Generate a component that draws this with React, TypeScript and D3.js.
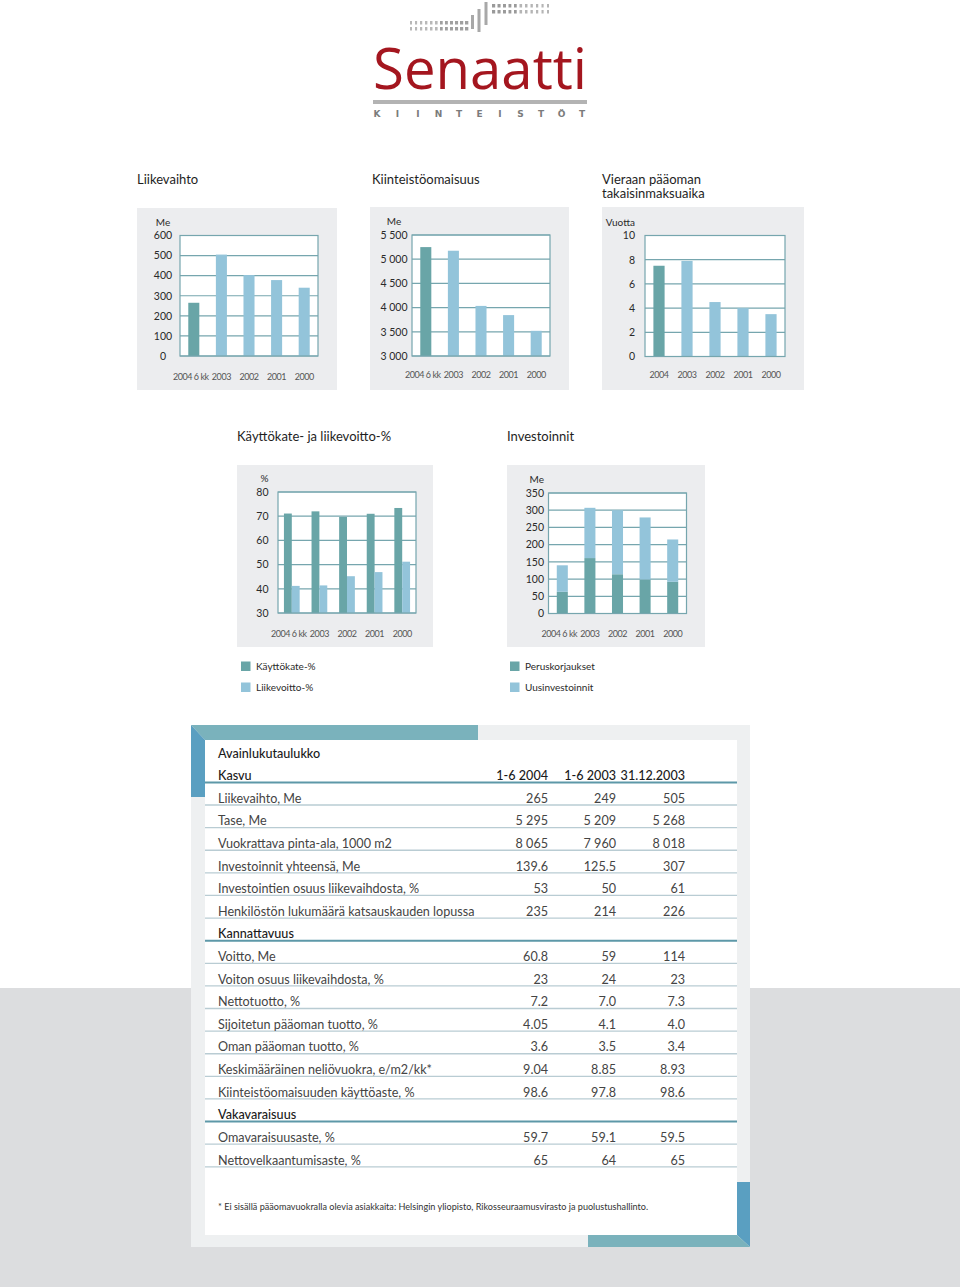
import React from "react";
import * as d3 from "d3";

const FONT = "Lato, 'Open Sans', sans-serif";

// ---- Data ----
const yearLabels = ["2004 6 kk", "2003", "2002", "2001", "2000"];
const yearLabelsShort = ["2004", "2003", "2002", "2001", "2000"];

const liikevaihto = [265, 505, 403, 378, 340];
const liikevaihtoTicks = [0, 100, 200, 300, 400, 500, 600];
const liikevaihtoTickLabels = ["0", "100", "200", "300", "400", "500", "600"];

const kiinteistoomaisuus = [5250, 5175, 4035, 3845, 3520];
const kiinteistoTicks = [3000, 3500, 4000, 4500, 5000, 5500];
const kiinteistoTickLabels = ["3 000", "3 500", "4 000", "4 500", "5 000", "5 500"];

const takaisinmaksuaika = [7.5, 7.9, 4.5, 4.0, 3.5];
const takaisinTicks = [0, 2, 4, 6, 8, 10];
const takaisinTickLabels = ["0", "2", "4", "6", "8", "10"];

const kayttokate = [71.1, 72.0, 69.7, 71.0, 73.4];
const liikevoitto = [41.2, 41.4, 45.2, 46.9, 51.2];
const prosenttiTicks = [30, 40, 50, 60, 70, 80];
const prosenttiTickLabels = ["30", "40", "50", "60", "70", "80"];

const peruskorjaukset = [63, 161, 114, 99, 92];
const uusinvestoinnit = [77, 146, 186, 180, 123];
const investointiTicks = [0, 50, 100, 150, 200, 250, 300, 350];
const investointiTickLabels = ["0", "50", "100", "150", "200", "250", "300", "350"];

const tableTitle = "Avainlukutaulukko";
const tableColumns = ["1-6 2004", "1-6 2003", "31.12.2003"];
const kasvuRows = [
  ["Liikevaihto, Me", "265", "249", "505"],
  ["Tase, Me", "5 295", "5 209", "5 268"],
  ["Vuokrattava pinta-ala, 1000 m2", "8 065", "7 960", "8 018"],
  ["Investoinnit yhteensä, Me", "139.6", "125.5", "307"],
  ["Investointien osuus liikevaihdosta, %", "53", "50", "61"],
  ["Henkilöstön lukumäärä katsauskauden lopussa", "235", "214", "226"],
];
const kannattavuusRows = [
  ["Voitto, Me", "60.8", "59", "114"],
  ["Voiton osuus liikevaihdosta, %", "23", "24", "23"],
  ["Nettotuotto, %", "7.2", "7.0", "7.3"],
  ["Sijoitetun pääoman tuotto, %", "4.05", "4.1", "4.0"],
  ["Oman pääoman tuotto, %", "3.6", "3.5", "3.4"],
  ["Keskimääräinen neliövuokra, e/m2/kk*", "9.04", "8.85", "8.93"],
  ["Kiinteistöomaisuuden käyttöaste, %", "98.6", "97.8", "98.6"],
];
const vakavaraisuusRows = [
  ["Omavaraisuusaste, %", "59.7", "59.1", "59.5"],
  ["Nettovelkaantumisaste, %", "65", "64", "65"],
];
const footnote =
  "* Ei sisällä pääomavuokralla olevia asiakkaita: Helsingin yliopisto, Rikosseuraamusvirasto ja puolustushallinto.";

// ---- Styles ----
const DARK = "#69a5a7";
const LIGHT = "#93c4da";
const GRID = "#76a6ae";
const PANEL = "#ecedef";
const TEXT = "#2a2a2a";

type Rect = { x: number; y: number; w: number; h: number };

function BarChart(props: {
  panel: Rect;
  plot: Rect;
  domain: [number, number];
  ticks: number[];
  tickLabels: string[];
  unit: string;
  labelX: number;
  anchor: "middle" | "end";
  categories: string[];
  xLabelY: number;
  mode: "single" | "grouped" | "stacked";
  series: number[][];
  colors: string[];
}) {
  const { panel, plot, domain, ticks, tickLabels, unit, labelX, anchor, categories, xLabelY, mode, series, colors } = props;
  const y = d3.scaleLinear().domain(domain).range([plot.y + plot.h, plot.y]);
  const inner = mode === "grouped" ? 0.43 : 0.6;
  const x = d3
    .scaleBand<string>()
    .domain(categories)
    .range([plot.x, plot.x + plot.w])
    .paddingInner(inner)
    .paddingOuter(inner / 2);
  const sub = d3
    .scaleBand<number>()
    .domain(series.map((_, i) => i))
    .range([0, x.bandwidth()]);

  const bars: JSX.Element[] = [];
  if (mode === "single") {
    series[0].forEach((v, i) => {
      const c = categories[i];
      bars.push(
        <rect key={i} x={x(c)} y={y(v)} width={x.bandwidth()} height={y(domain[0]) - y(v)} fill={i === 0 ? colors[0] : colors[1]} />
      );
    });
  } else if (mode === "grouped") {
    series.forEach((s, si) =>
      s.forEach((v, i) => {
        const c = categories[i];
        bars.push(
          <rect key={si + "-" + i} x={(x(c) as number) + (sub(si) as number)} y={y(v)} width={sub.bandwidth()} height={y(domain[0]) - y(v)} fill={colors[si]} />
        );
      })
    );
  } else {
    const stack = d3.stack<number>().keys(series.map((_, i) => String(i))).value((d, k) => series[+k][d]);
    const layers = stack(categories.map((_, i) => i));
    layers.forEach((layer, si) =>
      layer.forEach((seg, i) => {
        const c = categories[i];
        bars.push(
          <rect key={si + "-" + i} x={x(c)} y={y(seg[1])} width={x.bandwidth()} height={y(seg[0]) - y(seg[1])} fill={colors[si]} />
        );
      })
    );
  }

  return (
    <g>
      <rect x={panel.x} y={panel.y} width={panel.w} height={panel.h} fill={PANEL} />
      <rect x={plot.x} y={plot.y} width={plot.w} height={plot.h} fill="#ffffff" />
      {ticks.map((t, i) => (
        <line key={"g" + i} x1={plot.x} x2={plot.x + plot.w} y1={y(t)} y2={y(t)} stroke={GRID} strokeWidth={1.2} />
      ))}
      {bars}
      <rect x={plot.x} y={plot.y} width={plot.w} height={plot.h} fill="none" stroke={GRID} strokeWidth={1.2} />
      {ticks.map((t, i) => (
        <text key={"t" + i} x={labelX} y={y(t) + 3.8} textAnchor={anchor} fontSize={10.5} fill={TEXT} fontFamily={FONT}>
          {tickLabels[i]}
        </text>
      ))}
      <text x={labelX} y={plot.y - 10} textAnchor={anchor} fontSize={10} fill={TEXT} fontFamily={FONT}>
        {unit}
      </text>
      {categories.map((c, i) => {
        const cx = (x(c) as number) + x.bandwidth() / 2;
        const shift = c.length > 4 ? -3 : 0;
        return (
          <text key={"x" + i} x={cx + shift} y={xLabelY + 3.5} textAnchor="middle" fontSize={9} fill="#555" fontFamily={FONT} letterSpacing={-0.45}>
            {c}
          </text>
        );
      })}
    </g>
  );
}

function Logo() {
  const lowDashes = d3.range(12);
  const highDashes = d3.range(11);
  return (
    <g>
      {lowDashes.map((i) => (
        <g key={"l" + i} fill={i < 6 ? "#b8b8b8" : "#a0a0a0"}>
          <rect x={410 + i * 5} y={21} width={2 + i * 0.12} height={3.5} />
          <rect x={410 + i * 5} y={27} width={2 + i * 0.12} height={3.5} />
        </g>
      ))}
      <rect x={471} y={15} width={3} height={14} fill="#a8a8a8" />
      <rect x={477.5} y={9} width={3} height={23} fill="#a8a8a8" />
      <rect x={484.5} y={2} width={3} height={23} fill="#a8a8a8" />
      {highDashes.map((i) => (
        <g key={"h" + i} fill={i < 5 ? "#9a9a9a" : "#b5b5b5"}>
          <rect x={492 + i * 5.5} y={4} width={3.2 - i * 0.12} height={3.5} />
          <rect x={492 + i * 5.5} y={10} width={3.2 - i * 0.12} height={3.5} />
        </g>
      ))}
      <text x={373} y={89} fontSize={56} fill="#a4161f" fontFamily="'Open Sans', sans-serif" textLength={214} lengthAdjust="spacingAndGlyphs">
        Senaatti
      </text>
      <rect x={373} y={100} width={214} height={4} fill="#b3b3b3" />
      {"KIINTEISTÖT".split("").map((ch, i) => (
        <text key={"k" + i} x={377 + i * 20.5} y={117} fontSize={9} fontWeight="bold" fill="#7b7b7b" textAnchor="middle" fontFamily="'DejaVu Sans', sans-serif">
          {ch}
        </text>
      ))}
    </g>
  );
}

function Title({ x, y, lines }: { x: number; y: number; lines: string[] }) {
  return (
    <g>
      {lines.map((l, i) => (
        <text key={i} x={x} y={y + i * 14.5} fontSize={13} fill="#1e1e1e" fontFamily={FONT}>
          {l}
        </text>
      ))}
    </g>
  );
}

function Legend({ x, y, items }: { x: number; y: number; items: { label: string; color: string }[] }) {
  return (
    <g>
      {items.map((it, i) => (
        <g key={i}>
          <rect x={x} y={y + i * 21 - 4.5} width={9.5} height={9.5} fill={it.color} />
          <text x={x + 15} y={y + i * 21 + 3.5} fontSize={10} fill={TEXT} fontFamily={FONT}>
            {it.label}
          </text>
        </g>
      ))}
    </g>
  );
}

function KeyTable() {
  type Row = { kind: "title" | "section" | "row"; cells: string[] };
  const rows: Row[] = [
    { kind: "title", cells: [tableTitle] },
    { kind: "section", cells: ["Kasvu", ...tableColumns] },
    ...kasvuRows.map((r) => ({ kind: "row" as const, cells: r })),
    { kind: "section", cells: ["Kannattavuus"] },
    ...kannattavuusRows.map((r) => ({ kind: "row" as const, cells: r })),
    { kind: "section", cells: ["Vakavaraisuus"] },
    ...vakavaraisuusRows.map((r) => ({ kind: "row" as const, cells: r })),
  ];
  const rowY = d3.scaleLinear().domain([0, rows.length - 1]).range([753, 1160]);
  const colX = [548, 616, 685];
  const left = 205;
  const right = 737;
  return (
    <g>
      <rect x={191} y={725} width={559} height={522} fill="#eef0f1" />
      <rect x={left} y={740} width={right - left} height={495} fill="#ffffff" />
      <polygon points="191,725 478,725 478,740 205,740" fill="#7ab2bc" />
      <polygon points="191,725 205,740 205,797 191,797" fill="#5a9fc1" />
      <polygon points="737,1182 750,1182 750,1247 737,1235" fill="#5a9fc1" />
      <polygon points="588,1235 737,1235 750,1247 588,1247" fill="#7ab2bc" />
      {rows.map((r, i) => {
        const cy = rowY(i);
        const strong = r.kind !== "row";
        const fill = strong ? "#1a1a1a" : "#444444";
        const weight = strong ? 500 : 400;
        return (
          <g key={i}>
            {r.kind !== "title" && (
              <line
                x1={left}
                x2={right}
                y1={cy + 6.8}
                y2={cy + 6.8}
                stroke={r.kind === "section" ? "#5d98a8" : "#b9ccd3"}
                strokeWidth={r.kind === "section" ? 2 : 1.3}
              />
            )}
            <text x={218} y={cy + 4.5} fontSize={12.6} fill={fill} fontWeight={weight} fontFamily={FONT}>
              {r.cells[0]}
            </text>
            {r.cells.slice(1).map((c, j) => (
              <text key={j} x={colX[j]} y={cy + 4.5} textAnchor="end" fontSize={12.6} fill={fill} fontWeight={weight} fontFamily={FONT}>
                {c}
              </text>
            ))}
          </g>
        );
      })}
      <text x={218} y={1210} fontSize={9.1} fill="#333" fontFamily={FONT}>
        {footnote}
      </text>
    </g>
  );
}

export default function App() {
  return (
    <svg width={960} height={1287} style={{ position: "absolute", left: 0, top: 0, display: "block" }} xmlns="http://www.w3.org/2000/svg">
      <rect x={0} y={0} width={960} height={1287} fill="#ffffff" />
      <rect x={0} y={988} width={960} height={299} fill="#dcdddf" />
      <Logo />

      <Title x={137} y={183.5} lines={["Liikevaihto"]} />
      <BarChart
        panel={{ x: 137, y: 208, w: 200, h: 182 }}
        plot={{ x: 180, y: 235.5, w: 138, h: 120.5 }}
        domain={[0, 600]}
        ticks={liikevaihtoTicks}
        tickLabels={liikevaihtoTickLabels}
        unit="Me"
        labelX={163}
        anchor="middle"
        categories={yearLabels}
        xLabelY={376}
        mode="single"
        series={[liikevaihto]}
        colors={[DARK, LIGHT]}
      />

      <Title x={372} y={183.5} lines={["Kiinteistöomaisuus"]} />
      <BarChart
        panel={{ x: 370, y: 207, w: 199, h: 183 }}
        plot={{ x: 412, y: 235, w: 138, h: 121 }}
        domain={[3000, 5500]}
        ticks={kiinteistoTicks}
        tickLabels={kiinteistoTickLabels}
        unit="Me"
        labelX={394}
        anchor="middle"
        categories={yearLabels}
        xLabelY={374}
        mode="single"
        series={[kiinteistoomaisuus]}
        colors={[DARK, LIGHT]}
      />

      <Title x={602} y={183.5} lines={["Vieraan pääoman", "takaisinmaksuaika"]} />
      <BarChart
        panel={{ x: 602, y: 207, w: 202, h: 183 }}
        plot={{ x: 645, y: 235.5, w: 140, h: 121 }}
        domain={[0, 10]}
        ticks={takaisinTicks}
        tickLabels={takaisinTickLabels}
        unit="Vuotta"
        labelX={635}
        anchor="end"
        categories={yearLabelsShort}
        xLabelY={374}
        mode="single"
        series={[takaisinmaksuaika]}
        colors={[DARK, LIGHT]}
      />

      <Title x={237} y={440.5} lines={["Käyttökate- ja liikevoitto-%"]} />
      <BarChart
        panel={{ x: 237, y: 465, w: 196, h: 182 }}
        plot={{ x: 278, y: 492, w: 138, h: 121 }}
        domain={[30, 80]}
        ticks={prosenttiTicks}
        tickLabels={prosenttiTickLabels}
        unit="%"
        labelX={268.5}
        anchor="end"
        categories={yearLabels}
        xLabelY={633}
        mode="grouped"
        series={[kayttokate, liikevoitto]}
        colors={[DARK, LIGHT]}
      />
      <Legend x={241} y={666} items={[{ label: "Käyttökate-%", color: DARK }, { label: "Liikevoitto-%", color: LIGHT }]} />

      <Title x={507} y={440.5} lines={["Investoinnit"]} />
      <BarChart
        panel={{ x: 507, y: 465, w: 198, h: 182 }}
        plot={{ x: 548.5, y: 493, w: 138, h: 120.5 }}
        domain={[0, 350]}
        ticks={investointiTicks}
        tickLabels={investointiTickLabels}
        unit="Me"
        labelX={544}
        anchor="end"
        categories={yearLabels}
        xLabelY={633}
        mode="stacked"
        series={[peruskorjaukset, uusinvestoinnit]}
        colors={[DARK, LIGHT]}
      />
      <Legend x={510} y={666} items={[{ label: "Peruskorjaukset", color: DARK }, { label: "Uusinvestoinnit", color: LIGHT }]} />

      <KeyTable />
    </svg>
  );
}
